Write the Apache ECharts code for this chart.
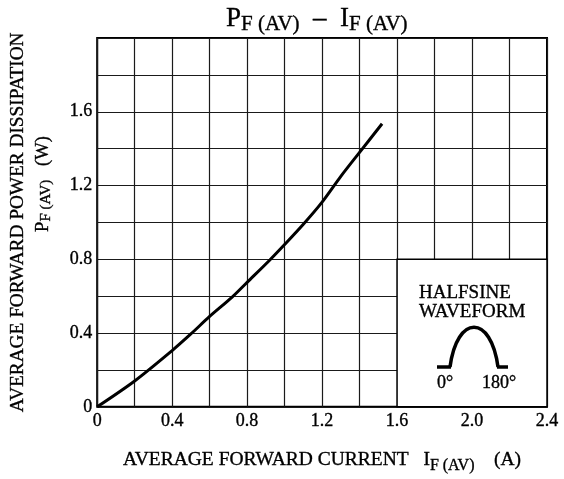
<!DOCTYPE html>
<html><head><meta charset="utf-8">
<script src="https://cdn.jsdelivr.net/npm/echarts@6/dist/echarts.min.js"></script>
<style>html,body{margin:0;padding:0;background:#fff}#c{width:564px;height:479px}</style>
</head><body><div id="c"></div>
<script>
// Data
const currentA = [0, 0.2, 0.4, 0.5, 0.6, 0.72, 0.8, 0.92, 1.0, 1.1, 1.2, 1.3, 1.4, 1.52];
const powerW   = [0, 0.14, 0.305, 0.395, 0.49, 0.595, 0.675, 0.795, 0.88, 0.99, 1.11, 1.25, 1.38, 1.535];
const xTickLabels = ['0', '0.4', '0.8', '1.2', '1.6', '2.0', '2.4'];
const yTickLabels = ['0', '0.4', '0.8', '1.2', '1.6'];
const boxCorners = [[1.6, 0], [2.4, 0.8]];

const FONT = 'Liberation Serif';
const EMB = { textBorderColor: '#000', textBorderWidth: 0.35 };
function labelAt(list) {
  return function (v) {
    const k = v / 0.4, i = Math.round(k);
    if (Math.abs(k - i) < 1e-6 && i < list.length) return list[i];
    return '';
  };
}
const sub = Object.assign({ fontFamily: FONT, fontSize: 16, fontWeight: 'normal', color: '#000', lineHeight: 16, padding: [10, 0, 0, 0], verticalAlign: 'bottom' }, EMB);
const big = Object.assign({ fontFamily: FONT, fontSize: 19.5, fontWeight: 'normal', color: '#000', lineHeight: 24, verticalAlign: 'top' }, EMB);

const chart = echarts.init(document.getElementById('c'), null, { renderer: 'canvas' });
chart.setOption({
  animation: false,
  backgroundColor: '#fff',
  title: {
    text: '{p|P}{s|F (AV)}{p|  –  I}{s|F (AV)}',
    left: 221, top: 0,
    textStyle: {
      fontWeight: 'normal',
      rich: {
        p: Object.assign({ fontFamily: FONT, fontSize: 27, fontWeight: 'normal', color: '#000', lineHeight: 30, verticalAlign: 'top' }, EMB),
        s: Object.assign({ fontFamily: FONT, fontSize: 21, fontWeight: 'normal', color: '#000', lineHeight: 21, padding: [12, 0, 0, 0], verticalAlign: 'bottom' }, EMB)
      }
    }
  },
  grid: { left: 95, right: 17, top: 38, bottom: 66, show: true, borderColor: '#000', borderWidth: 2, backgroundColor: 'transparent' },
  xAxis: {
    type: 'value', min: 0, max: 2.4, interval: 0.2,
    name: '{t|AVERAGE FORWARD CURRENT   I}{s|F (AV)}{t|    (A)}',
    nameLocation: 'middle', nameGap: 43,
    nameTextStyle: { rich: { t: big, s: sub } },
    axisLine: { show: false }, axisTick: { show: false },
    axisLabel: Object.assign({ formatter: labelAt(xTickLabels), fontFamily: FONT, fontSize: 18, color: '#000', margin: 5, showMaxLabel: true, showMinLabel: true }, EMB),
    splitLine: { show: true, lineStyle: { color: '#1a1a1a', width: 1.2 } }
  },
  yAxis: {
    type: 'value', min: 0, max: 2.0, interval: 0.2,
    name: 'AVERAGE FORWARD POWER DISSIPATION',
    nameLocation: 'middle', nameGap: 70,
    nameTextStyle: Object.assign({ fontFamily: FONT, fontSize: 19.3, color: '#000' }, EMB),
    axisLine: { show: false }, axisTick: { show: false },
    axisLabel: Object.assign({ formatter: labelAt(yTickLabels), fontFamily: FONT, fontSize: 18, color: '#000', margin: 5 }, EMB),
    splitLine: { show: true, lineStyle: { color: '#1a1a1a', width: 1.2 } }
  },
  series: [{
    type: 'line',
    data: currentA.map((x, i) => [x, powerW[i]]),
    smooth: 0.3, showSymbol: false,
    lineStyle: { color: '#000', width: 3 },
    markArea: {
      silent: true,
      itemStyle: { color: '#fff', borderColor: '#000', borderWidth: 1.5 },
      data: [[{ coord: boxCorners[0] }, { coord: boxCorners[1] }]]
    }
  }],
  graphic: [
    {
      type: 'text', x: 34, y: 184, rotation: Math.PI / 2, z: 100,
      style: {
        text: '{p|P}{s|F (AV)}{p|   (W)}',
        align: 'center', verticalAlign: 'top',
        rich: {
          p: { fontFamily: FONT, fontSize: 18.5, fill: '#000', stroke: '#000', lineWidth: 0.35, lineHeight: 20, verticalAlign: 'top' },
          s: { fontFamily: FONT, fontSize: 15, fill: '#000', stroke: '#000', lineWidth: 0.35, lineHeight: 15, padding: [8, 0, 0, 0], verticalAlign: 'bottom' }
        }
      }
    },
    { type: 'text', x: 419, y: 284, z: 100, style: { text: 'HALFSINE', font: '19px "Liberation Serif"', fill: '#000', stroke: '#000', lineWidth: 0.35 } },
    { type: 'text', x: 419, y: 303, z: 100, style: { text: 'WAVEFORM', font: '19px "Liberation Serif"', fill: '#000', stroke: '#000', lineWidth: 0.35 } },
    { type: 'text', x: 437, y: 374, z: 100, style: { text: '0°', font: '18px "Liberation Serif"', fill: '#000', stroke: '#000', lineWidth: 0.35 } },
    { type: 'text', x: 482, y: 374, z: 100, style: { text: '180°', font: '18px "Liberation Serif"', fill: '#000', stroke: '#000', lineWidth: 0.35 } },
    { type: 'line', z: 100, shape: { x1: 437, y1: 367, x2: 451, y2: 367 }, style: { stroke: '#000', lineWidth: 3.5 } },
    { type: 'line', z: 100, shape: { x1: 497, y1: 367, x2: 508, y2: 367 }, style: { stroke: '#000', lineWidth: 3.5 } },
    {
      type: 'bezierCurve', z: 100,
      shape: { x1: 450, y1: 367, cpx1: 457, cpy1: 314, cpx2: 491, cpy2: 314, x2: 498, y2: 367 },
      style: { stroke: '#000', lineWidth: 3.5, fill: null }
    }
  ]
});
</script>
</body></html>
